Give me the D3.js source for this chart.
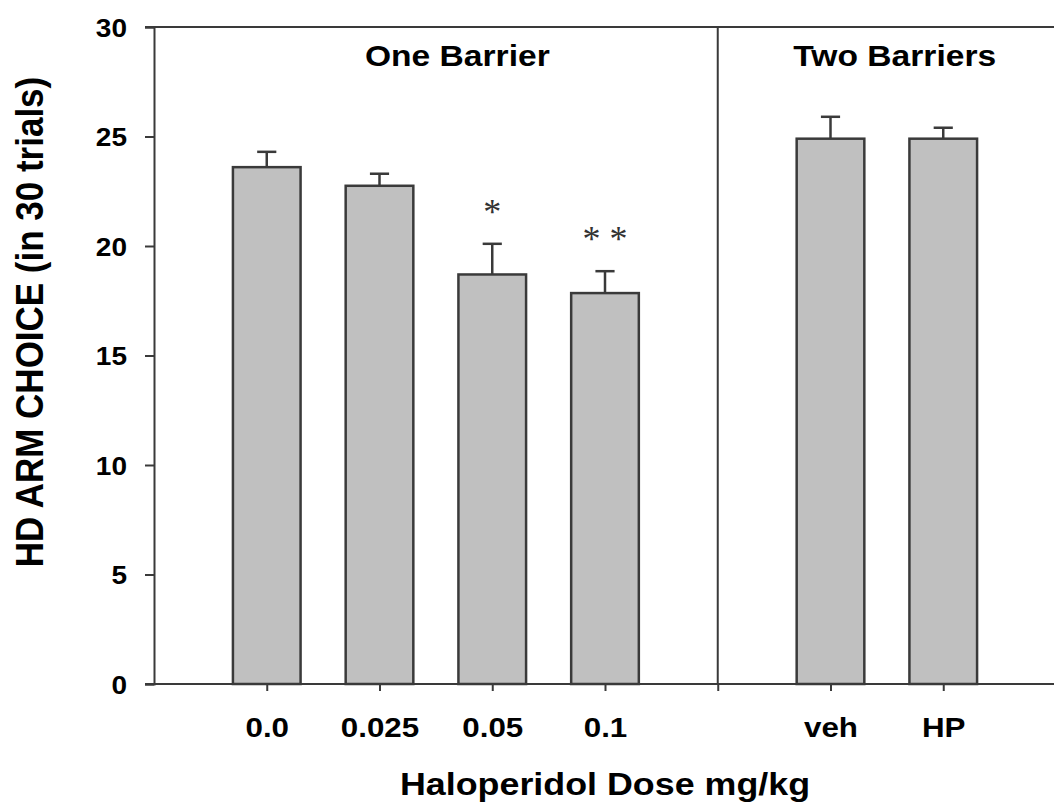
<!DOCTYPE html>
<html>
<head>
<meta charset="utf-8">
<script src="https://cdn.jsdelivr.net/npm/d3@7"></script>
<style>
  body { margin: 0; background: #fff; }
  svg { display: block; font-family: "Liberation Sans", Arial, sans-serif; }
</style>
</head>
<body>
<div id="chart"></div>
<script>
// values
const categories = ["0.0", "0.025", "0.05", "0.1", "veh", "HP"];
const slots = [1, 2, 3, 4, 6, 7];        // position of each bar on the x axis
const means = [23.6, 22.75, 18.7, 17.85, 24.9, 24.9];
const sems = [0.7, 0.55, 1.4, 1.0, 1.0, 0.5];
const stars = ["", "", "*", "* *", "", ""];
const yTicks = [0, 5, 10, 15, 20, 25, 30];
const groups = ["One Barrier", "Two Barriers"];

const width = 1054, height = 805;
const stretch = 1.12; // the reference text is a bit wide

const svg = d3.select('#chart')
  .append('svg')
  .attr('width', width)
  .attr('height', height);

const x = d3.scaleLinear().domain([0, 8]).range([154, 1056]);
const y = d3.scaleLinear().domain([0, 30]).range([684, 27]);

const ink = '#3a3a3a';

// y axis
const yAxis = svg.append('g')
  .attr('transform', 'translate(' + x(0) + ',0)')
  .call(d3.axisLeft(y).tickValues(yTicks).tickSize(9).tickPadding(0));
yAxis.select('.domain').attr('stroke', ink).attr('stroke-width', 2);
yAxis.selectAll('.tick line').attr('stroke', ink).attr('stroke-width', 2);
yAxis.selectAll('.tick text')
  .attr('x', -27 / stretch)
  .attr('dy', '0.36em')
  .attr('transform', 'scale(' + stretch + ',1)')
  .attr('font-size', 25)
  .attr('font-weight', 'bold')
  .attr('fill', '#000');

// x axis
const labelFor = {};
slots.forEach(function (s, i) { labelFor[s] = categories[i]; });
const xAxis = svg.append('g')
  .attr('transform', 'translate(0,' + y(0) + ')')
  .call(d3.axisBottom(x)
    .tickValues([1, 2, 3, 4, 5, 6, 7])
    .tickSize(7)
    .tickSizeOuter(0)
    .tickFormat(function (d) { return labelFor[d] || ''; }));
xAxis.select('.domain')
  .attr('d', 'M' + (x(0) - 9) + ',0H' + width)
  .attr('stroke', ink).attr('stroke-width', 2);
xAxis.selectAll('.tick line').attr('stroke', ink).attr('stroke-width', 2);
xAxis.selectAll('.tick text')
  .attr('y', 53)
  .attr('dy', 0)
  .attr('transform', 'scale(' + stretch + ',1)')
  .attr('font-size', 28)
  .attr('font-weight', 'bold')
  .attr('fill', '#000');

// top frame line and group divider
svg.append('line')
  .attr('x1', x(0) - 9).attr('x2', width)
  .attr('y1', y(30)).attr('y2', y(30))
  .attr('stroke', ink).attr('stroke-width', 2);
svg.append('line')
  .attr('x1', x(5)).attr('x2', x(5))
  .attr('y1', y(30)).attr('y2', y(0))
  .attr('stroke', ink).attr('stroke-width', 2);

// bars
const barW = x(0.6) - x(0);
const capW = x(0.17) - x(0);
const bar = svg.selectAll('g.bar')
  .data(means)
  .enter()
  .append('g')
  .attr('class', 'bar');

bar.append('line')
  .attr('x1', function (d, i) { return x(slots[i]); })
  .attr('x2', function (d, i) { return x(slots[i]); })
  .attr('y1', function (d) { return y(d); })
  .attr('y2', function (d, i) { return y(d + sems[i]); })
  .attr('stroke', ink).attr('stroke-width', 2.5);
bar.append('line')
  .attr('x1', function (d, i) { return x(slots[i]) - capW / 2; })
  .attr('x2', function (d, i) { return x(slots[i]) + capW / 2; })
  .attr('y1', function (d, i) { return y(d + sems[i]); })
  .attr('y2', function (d, i) { return y(d + sems[i]); })
  .attr('stroke', ink).attr('stroke-width', 2.5);
bar.append('rect')
  .attr('x', function (d, i) { return x(slots[i]) - barW / 2; })
  .attr('y', function (d) { return y(d); })
  .attr('width', barW)
  .attr('height', function (d) { return y(0) - y(d); })
  .attr('fill', '#c0c0c0')
  .attr('stroke', ink)
  .attr('stroke-width', 2.5);

// significance stars
bar.append('text')
  .attr('x', function (d, i) { return x(slots[i]); })
  .attr('y', function (d, i) { return y(d + sems[i]) - 20; })
  .attr('text-anchor', 'middle')
  .attr('font-family', '"Liberation Serif", "Times New Roman", serif')
  .attr('font-size', 36)
  .attr('fill', '#333')
  .attr('xml:space', 'preserve')
  .text(function (d, i) { return stars[i]; });

// group titles
svg.selectAll('text.group')
  .data(groups)
  .enter()
  .append('text')
  .attr('class', 'group')
  .attr('transform', function (d, i) {
    return 'translate(' + x(i === 0 ? 2.69 : 6.57) + ',66) scale(' + stretch + ',1)';
  })
  .attr('text-anchor', 'middle')
  .attr('font-size', 30)
  .attr('font-weight', 'bold')
  .text(function (d) { return d; });

// axis titles
svg.append('text')
  .attr('transform', 'translate(' + x(4) + ',795) scale(' + stretch + ',1)')
  .attr('text-anchor', 'middle')
  .attr('font-size', 32)
  .attr('font-weight', 'bold')
  .text('Haloperidol Dose mg/kg');

svg.append('text')
  .attr('transform', 'translate(43,322) scale(' + stretch + ',1) rotate(-90)')
  .attr('text-anchor', 'middle')
  .attr('font-size', 35)
  .attr('font-weight', 'bold')
  .text('HD ARM CHOICE (in 30 trials)');
</script>
</body>
</html>
